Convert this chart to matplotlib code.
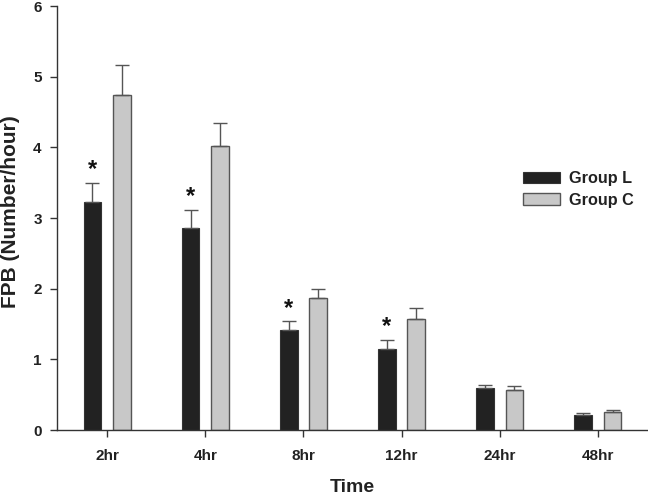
import matplotlib
matplotlib.use("Agg")
import matplotlib.pyplot as plt
import numpy as np

categories = ["2hr", "4hr", "8hr", "12hr", "24hr", "48hr"]
group_l = [3.22, 2.86, 1.41, 1.14, 0.59, 0.21]
group_l_err = [0.28, 0.26, 0.13, 0.14, 0.05, 0.03]
group_c = [4.74, 4.02, 1.87, 1.57, 0.57, 0.26]
group_c_err = [0.42, 0.32, 0.13, 0.16, 0.05, 0.03]
significant = [True, True, True, True, False, False]
series_names = ["Group L", "Group C"]

plt.rcParams['font.family'] = ['Liberation Sans', 'DejaVu Sans']

fig = plt.figure(figsize=(6.48, 4.97), dpi=100)
ax = fig.add_axes([57/648, 67/497, 1 - 57/648, 424/497])

x = np.arange(len(categories))
w = 0.18
off = 0.15
ekw = dict(ecolor="#555555", elinewidth=1.0, capthick=1.0)
bl = ax.bar(x - off, group_l, w, color="#222222", edgecolor="#333333", linewidth=0.8,
            yerr=[np.zeros(len(x)), group_l_err], capsize=5, error_kw=ekw, label=series_names[0], zorder=2)
bc = ax.bar(x + off, group_c, w, color="#c8c8c8", edgecolor="#555555", linewidth=1.0,
            yerr=[np.zeros(len(x)), group_c_err], capsize=5, error_kw=ekw, label=series_names[1], zorder=2)

for xi, v, e, s in zip(x, group_l, group_l_err, significant):
    if s:
        ax.annotate("*", (xi - off, v + e), xytext=(0, 1), textcoords="offset points",
                    ha="center", va="bottom", fontsize=17, fontweight="bold", color="#111111")

ax.set_xlim(-0.51, 5.51)
ax.set_ylim(0, 6)
ax.set_xticks(x)
ax.set_xticklabels(categories, fontsize=11, fontweight="bold", color="#222222")
ax.set_yticks(range(0, 7))
ax.set_yticklabels([str(i) for i in range(0, 7)], fontsize=11, fontweight="bold", color="#222222")
ax.tick_params(axis="both", direction="out", length=5, width=1, color="#333333", pad=6)
ax.tick_params(axis="x", pad=9)
for s in ["top", "right"]:
    ax.spines[s].set_visible(False)
for s in ["left", "bottom"]:
    ax.spines[s].set_color("#333333")
    ax.spines[s].set_linewidth(1.0)

ax.set_ylabel("FPB (Number/hour)", fontsize=15, fontweight="bold", color="#222222", va="center")
ax.yaxis.set_label_coords((10.8 - 57) / (648 - 57), (430 - 211.5) / 424)
ax.set_xlabel("Time", fontsize=14, fontweight="bold", color="#222222", va="top")
ax.xaxis.set_label_coords((352 - 57) / (648 - 57), -(479.5 - 430) / 424)

leg = fig.legend(handles=[bl, bc], labels=series_names, loc="upper left",
                 bbox_to_anchor=(515/648, 1 - 163/497), frameon=False, borderpad=0,
                 prop={"weight": "bold", "size": 11.7},
                 handlelength=2.25, handleheight=0.75, handletextpad=0.6, labelspacing=0.4)
for t in leg.get_texts():
    t.set_color("#222222")

fig.savefig("out.png", dpi=100)
